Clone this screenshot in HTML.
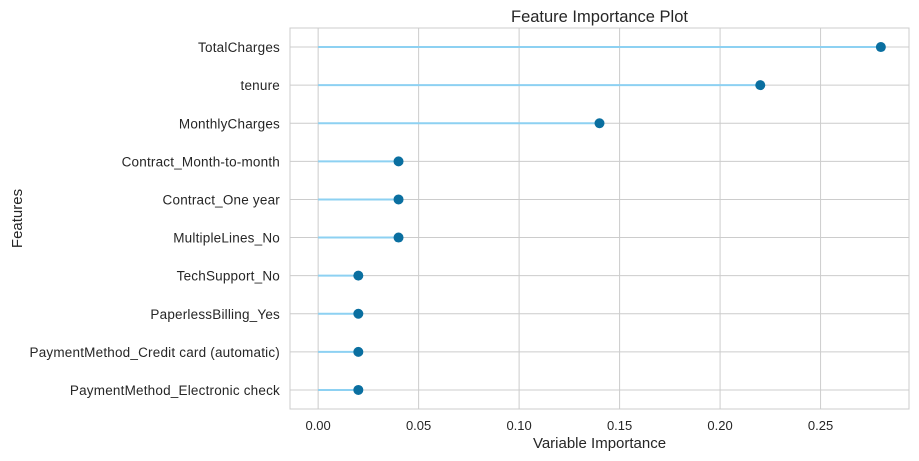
<!DOCTYPE html>
<html><head><meta charset="utf-8"><style>
html,body{margin:0;padding:0;background:#fff;}
svg{display:block;font-family:"Liberation Sans","DejaVu Sans",sans-serif;}
</style></head><body>
<svg id="chart" width="919" height="461"></svg>
<script>
const features = ["TotalCharges","tenure","MonthlyCharges","Contract_Month-to-month","Contract_One year","MultipleLines_No","TechSupport_No","PaperlessBilling_Yes","PaymentMethod_Credit card (automatic)","PaymentMethod_Electronic check"];
const importances = [0.28,0.22,0.14,0.04,0.04,0.04,0.02,0.02,0.02,0.02];
const xTicks = [0,0.05,0.10,0.15,0.20,0.25];
const xTickLabels = ["0.00","0.05","0.10","0.15","0.20","0.25"];

const NS="http://www.w3.org/2000/svg";
const svg=document.getElementById('chart');
const L=290,R=909,T=28,B=409;
const xMin=-0.014,xMax=0.294;
const xs=v=>L+(v-xMin)/(xMax-xMin)*(R-L);
const ys=i=>T+(i+0.5)*(B-T)/features.length;
function mk(tag,attrs,parent){const e=document.createElementNS(NS,tag);for(const k in attrs)e.setAttribute(k,attrs[k]);(parent||svg).appendChild(e);return e;}

const frame=mk('rect',{x:L,y:T,width:R-L,height:B-T,fill:'#fff',stroke:'#cccccc','stroke-width':1});



xTicks.forEach((t,i)=>{
  const g=mk('line',{x1:xs(t),x2:xs(t),y1:T,y2:B,stroke:'#cccccc','stroke-width':1});
  
  
  const tx=mk('text',{x:xs(t),y:B+21,'text-anchor':'middle','font-size':13,fill:'#262626'});
  tx.textContent=xTickLabels[i];
  
  
});
features.forEach((f,i)=>{
  const g=mk('line',{x1:L,x2:R,y1:ys(i),y2:ys(i),stroke:'#cccccc','stroke-width':1});
  
  
  const tx=mk('text',{x:L-10,y:ys(i)+5,'text-anchor':'end','font-size':13.5,'letter-spacing':0.2,fill:'#262626'});
  tx.textContent=f;
  
  
});
features.forEach((f,i)=>{
  const ln=mk('line',{x1:xs(0),x2:xs(importances[i]),y1:ys(i),y2:ys(i),stroke:'#8dd1f2','stroke-width':2});
  
  
  const c=mk('circle',{cx:xs(importances[i]),cy:ys(i),r:5,fill:'#0a6fa0'});
  
  
});
const title=mk('text',{x:(L+R)/2,y:22,'text-anchor':'middle','font-size':16.5,fill:'#262626'});
title.textContent='Feature Importance Plot';


const xt=mk('text',{x:(L+R)/2,y:448,'text-anchor':'middle','font-size':15,fill:'#262626'});
xt.textContent='Variable Importance';


const yt=mk('text',{x:22,y:(T+B)/2,'text-anchor':'middle','font-size':15,fill:'#262626',transform:'rotate(-90 22 '+((T+B)/2)+')'});
yt.textContent='Features';


</script>
</body></html>
